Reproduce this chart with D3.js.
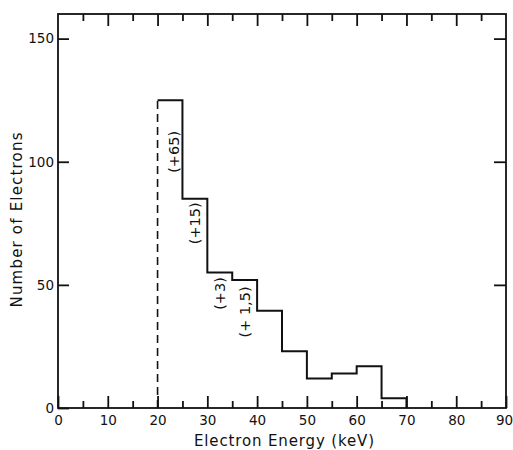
<!DOCTYPE html>
<html>
<head>
<meta charset="utf-8">
<script src="https://cdn.jsdelivr.net/npm/d3@7"></script>
<style>
  body { margin: 0; background: #fff; }
  svg text { font-family: "DejaVu Sans", sans-serif; fill: #111; }
</style>
</head>
<body>
<svg id="chart" width="513" height="450"></svg>
<script>
(function () {
	// histogram data
	let binStart = [20, 25, 30, 35, 40, 45, 50, 55, 60, 65];
	let counts = [125, 85, 55, 52, 39.5, 23, 12, 14, 17, 4];
	let binWidth = 5;

	// bracketed corrections written along the first bins
	let noteText = ["(+65)", "(+15)", "(+3)", "(+ 1,5)"];
	let noteX = [23.2, 27.6, 32.6, 37.6];
	let noteY = [104, 75, 46.5, 39];

	let xMajor = [0, 10, 20, 30, 40, 50, 60, 70, 80, 90];
	let xMinor = [5, 15, 25, 35, 45, 55, 65, 75, 85];
	let yTicks = [0, 50, 100, 150];

	let margin = {left: 58, right: 7, top: 14, bottom: 42};
	let width = 513, height = 450;

	let svg = d3.select("#chart");

	let x = d3.scaleLinear().domain([0, 90]).range([margin.left, width - margin.right]);
	let y = d3.scaleLinear().domain([0, 160]).range([height - margin.bottom, margin.top]);

	let x0 = x(0), x1 = x(90), y0 = y(0), y1 = y(160);

	// bottom axis, ticks pointing into the plot
	let bottom = svg.append("g")
		.attr("transform", "translate(0," + y0 + ")")
		.call(d3.axisBottom(x).tickValues(xMajor).tickSize(-12).tickPadding(7).tickFormat(d3.format("d")));
	svg.append("g")
		.attr("transform", "translate(0," + y0 + ")")
		.call(d3.axisBottom(x).tickValues(xMinor).tickSize(-7).tickFormat(""));

	// top axis, ticks only
	svg.append("g")
		.attr("transform", "translate(0," + y1 + ")")
		.call(d3.axisTop(x).tickValues(xMajor.slice(1, -1)).tickSize(-12).tickFormat(""));
	svg.append("g")
		.attr("transform", "translate(0," + y1 + ")")
		.call(d3.axisTop(x).tickValues(xMinor).tickSize(-7).tickFormat(""));

	// left and right axes
	svg.append("g")
		.attr("transform", "translate(" + x0 + ",0)")
		.call(d3.axisLeft(y).tickValues(yTicks).tickSize(-11).tickPadding(4).tickFormat(d3.format("d")));
	svg.append("g")
		.attr("transform", "translate(" + x1 + ",0)")
		.call(d3.axisRight(y).tickValues(yTicks.slice(1)).tickSize(-12).tickFormat(""));

	svg.selectAll(".domain").remove();
	svg.selectAll(".tick line").attr("stroke", "#111").attr("stroke-width", 1.8);
	svg.selectAll(".tick text").attr("font-size", 13.5).attr("fill", "#111");

	// last label sits against the page edge
	bottom.selectAll(".tick text")
		.filter(function (d) { return d === 90; })
		.attr("dx", -2);

	// frame
	svg.append("rect")
		.attr("x", x0).attr("y", y1)
		.attr("width", x1 - x0).attr("height", y0 - y1)
		.attr("fill", "none").attr("stroke", "#111").attr("stroke-width", 1.8);

	// histogram outline
	let pts = binStart.map(function (b, i) { return [b, counts[i]]; });
	pts.push([binStart[binStart.length - 1] + binWidth, 0]);

	let line = d3.line()
		.x(function (d) { return x(d[0]); })
		.y(function (d) { return y(d[1]); })
		.curve(d3.curveStepAfter);

	svg.append("path")
		.datum(pts)
		.attr("d", line)
		.attr("fill", "none")
		.attr("stroke", "#111")
		.attr("stroke-width", 2);

	// dashed leading edge of the first bin
	svg.append("line")
		.attr("x1", x(binStart[0])).attr("x2", x(binStart[0]))
		.attr("y1", y(0)).attr("y2", y(counts[0]))
		.attr("stroke", "#111")
		.attr("stroke-width", 1.6)
		.attr("stroke-dasharray", "8,5");

	// notes
	svg.selectAll(".note")
		.data(noteText)
		.enter()
		.append("text")
		.attr("class", "note")
		.attr("transform", function (d, i) {
			return "translate(" + x(noteX[i]) + "," + y(noteY[i]) + ") rotate(-90)";
		})
		.attr("text-anchor", "middle")
		.attr("dy", "0.35em")
		.attr("font-size", 14.5)
		.text(function (d) { return d; });

	// axis titles
	svg.append("text")
		.attr("x", (x0 + x1) / 2 + 2)
		.attr("y", 446)
		.attr("text-anchor", "middle")
		.attr("font-size", 15)
		.attr("textLength", 180)
		.attr("lengthAdjust", "spacing")
		.text("Electron Energy (keV)");

	svg.append("text")
		.attr("transform", "translate(22,220) rotate(-90)")
		.attr("text-anchor", "middle")
		.attr("font-size", 15)
		.attr("textLength", 175)
		.attr("lengthAdjust", "spacing")
		.text("Number of Electrons");
})();
</script>
</body>
</html>
